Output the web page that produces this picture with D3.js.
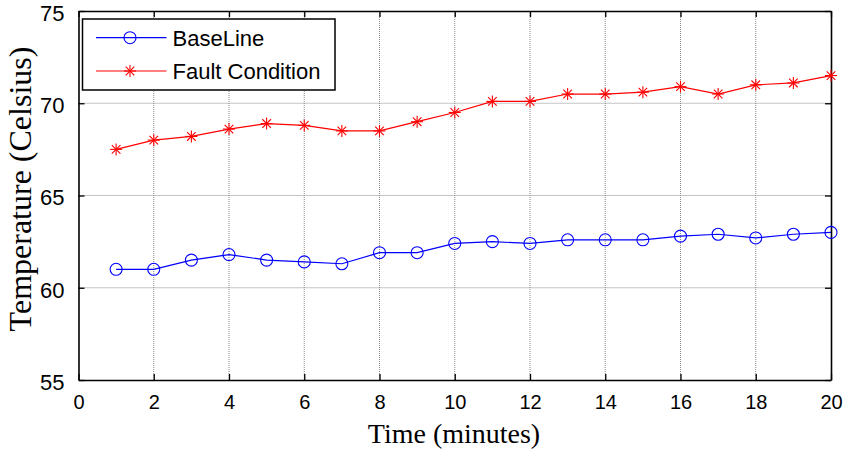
<!DOCTYPE html>
<html>
<head>
<meta charset="utf-8">
<script src="https://cdn.jsdelivr.net/npm/d3@7"></script>
<style>
  html, body { margin: 0; padding: 0; background: #fff; }
  svg { display: block; }
</style>
</head>
<body>
<svg id="chart" width="847" height="453"></svg>
<script>
// Temperature readings per minute
const minutes = [1,2,3,4,5,6,7,8,9,10,11,12,13,14,15,16,17,18,19,20];
const baseline = [61.0,61.0,61.5,61.8,61.5,61.4,61.3,61.9,61.9,62.4,62.5,62.4,62.6,62.6,62.6,62.8,62.9,62.7,62.9,63.0];
const faultCondition = [67.5,68.0,68.2,68.6,68.9,68.8,68.5,68.5,69.0,69.5,70.1,70.1,70.5,70.5,70.6,70.9,70.5,71.0,71.1,71.5];
const xTicks = [0,2,4,6,8,10,12,14,16,18,20];
const yTicks = [55,60,65,70,75];
const seriesNames = ["BaseLine", "Fault Condition"];

const svg = d3.select("#chart");
const plotLeft = 78.5, plotRight = 831, plotTop = 11, plotBottom = 380;

const x = d3.scaleLinear().domain([0, 20]).range([plotLeft, plotRight]);
const y = d3.scaleLinear().domain([55, 75]).range([plotBottom, plotTop]);

// dotted grid
const grid = svg.append("g");
grid.selectAll("line.vg").data(xTicks.slice(1, -1)).join("line")
  .attr("x1", d => x(d)).attr("x2", d => x(d))
  .attr("y1", plotTop).attr("y2", plotBottom)
  .attr("stroke", "#8a8a8a").attr("stroke-width", 1).attr("stroke-dasharray", "1,1");
grid.selectAll("line.hg").data(yTicks.slice(1, -1)).join("line")
  .attr("x1", plotLeft).attr("x2", plotRight)
  .attr("y1", d => y(d)).attr("y2", d => y(d))
  .attr("stroke", "#8a8a8a").attr("stroke-width", 1).attr("stroke-dasharray", "1,1");

// axes with inward ticks on all four sides
const axisFont = "'Liberation Sans', Arial, sans-serif";
const gB = svg.append("g").attr("transform", `translate(0,${plotBottom})`)
  .call(d3.axisBottom(x).tickValues(xTicks).tickSizeInner(-6).tickSizeOuter(0).tickPadding(15));
const gT = svg.append("g").attr("transform", `translate(0,${plotTop})`)
  .call(d3.axisTop(x).tickValues(xTicks).tickSizeInner(-6).tickSizeOuter(0).tickFormat(""));
const gL = svg.append("g").attr("transform", `translate(${plotLeft},0)`)
  .call(d3.axisLeft(y).tickValues(yTicks).tickSizeInner(-6).tickSizeOuter(0).tickPadding(14));
const gR = svg.append("g").attr("transform", `translate(${plotRight},0)`)
  .call(d3.axisRight(y).tickValues(yTicks).tickSizeInner(-6).tickSizeOuter(0).tickFormat(""));

[gB, gT, gL, gR].forEach(g => {
  g.select(".domain").attr("stroke", "#000").attr("stroke-width", 1.6);
  g.selectAll(".tick line").attr("stroke", "#000").attr("stroke-width", 1.3);
});
gB.selectAll(".tick text").attr("font-family", axisFont).attr("font-size", 20).attr("fill", "#000");
gL.selectAll(".tick text").attr("font-family", axisFont).attr("font-size", 22).attr("fill", "#000").attr("dy", "0.42em");

// axis titles
const titleFont = "'Liberation Serif', 'Times New Roman', serif";
svg.append("text").attr("x", 454).attr("y", 443)
  .attr("text-anchor", "middle").attr("font-family", titleFont).attr("font-size", 28)
  .text("Time (minutes)");
svg.append("text").attr("transform", "translate(31,189) rotate(-90)")
  .attr("text-anchor", "middle").attr("font-family", titleFont).attr("font-size", 32)
  .text("Temperature (Celsius)");

// markers
function circleMarker(g, cx, cy) {
  g.append("circle").attr("cx", cx).attr("cy", cy).attr("r", 6)
    .attr("fill", "none").attr("stroke", "#0000ff").attr("stroke-width", 1.1);
}
function starMarker(g, cx, cy) {
  const r = 6, d = 4.3;
  const segs = [[-r,0,r,0],[0,-r,0,r],[-d,-d,d,d],[-d,d,d,-d]];
  segs.forEach(s => g.append("line")
    .attr("x1", cx + s[0]).attr("y1", cy + s[1]).attr("x2", cx + s[2]).attr("y2", cy + s[3])
    .attr("stroke", "#ff0000").attr("stroke-width", 1.1));
}

const line = d3.line().x(d => x(d[0])).y(d => y(d[1]));
const baseData = minutes.map((m, i) => [m, baseline[i]]);
const faultData = minutes.map((m, i) => [m, faultCondition[i]]);

svg.append("path").datum(faultData).attr("d", line)
  .attr("fill", "none").attr("stroke", "#ff0000").attr("stroke-width", 1.2);
svg.append("path").datum(baseData).attr("d", line)
  .attr("fill", "none").attr("stroke", "#0000ff").attr("stroke-width", 1.2);

const mk = svg.append("g");
baseData.forEach(d => circleMarker(mk, x(d[0]), y(d[1])));
faultData.forEach(d => starMarker(mk, x(d[0]), y(d[1])));

// legend
const lg = svg.append("g");
lg.append("rect").attr("x", 82.5).attr("y", 19).attr("width", 252.5).attr("height", 71)
  .attr("fill", "#fff").attr("stroke", "#000").attr("stroke-width", 1.5);
const legendRows = [
  { name: seriesNames[0], color: "#0000ff", yy: 37.7, marker: circleMarker },
  { name: seriesNames[1], color: "#ff0000", yy: 71, marker: starMarker }
];
legendRows.forEach(r => {
  lg.append("line").attr("x1", 96).attr("x2", 166.5).attr("y1", r.yy).attr("y2", r.yy)
    .attr("stroke", r.color).attr("stroke-width", 1.2);
  r.marker(lg, 130, r.yy);
  lg.append("text").attr("x", 172.5).attr("y", r.yy + 8)
    .attr("font-family", axisFont).attr("font-size", 22).attr("fill", "#000")
    .text(r.name);
});
</script>
</body>
</html>
